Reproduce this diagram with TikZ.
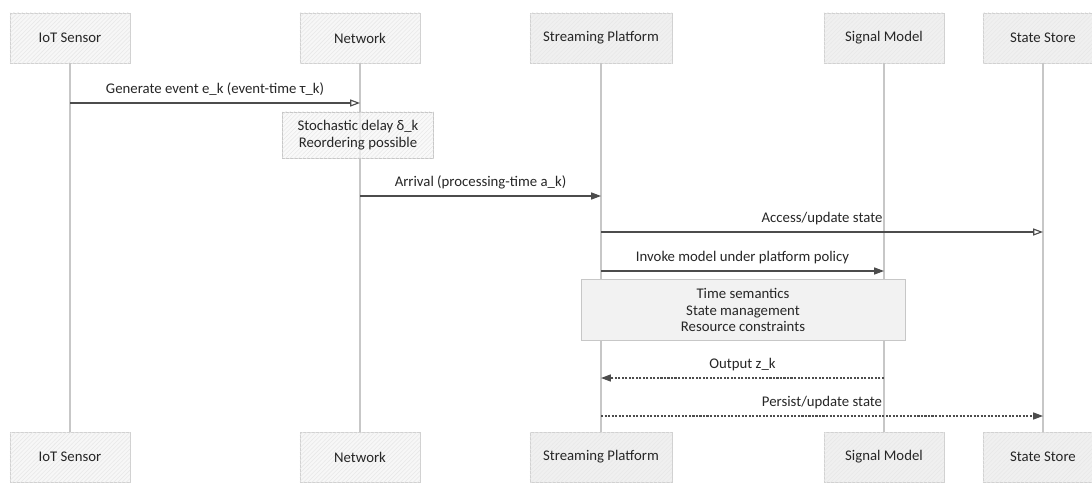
\documentclass[tikz,border=0pt]{standalone}
\usepackage{fontspec}
\setmainfont{Carlito}
\usetikzlibrary{arrows.meta, patterns}

\begin{document}
\begin{tikzpicture}[x=0.025cm, y=-0.025cm, font=\fontsize{10.5}{11.8}\selectfont]
% Styles
\tikzstyle{actor} = [rectangle, minimum width=3cm, minimum height=1.25cm, text centered, draw=black!18, fill=black!3, text=black!85, postaction={pattern=north east lines, pattern color=black!9}]
\tikzstyle{actordark} = [actor, fill=black!6]
\tikzstyle{note} = [rectangle, text centered, align=center, draw=black!22, fill=black!3, text=black!85]
\tikzstyle{lifeline} = [draw=black!22, line width=0.8pt]
\tikzstyle{arrow} = [line width=0.8pt, draw=black!70, -{Triangle[open, length=7pt, width=5pt]}]
\tikzstyle{call} = [line width=0.8pt, draw=black!70, -{Triangle[length=7pt, width=5pt]}]
\tikzstyle{reply} = [call, dash pattern=on 1.5pt off 1pt]

\useasboundingbox (0,0) rectangle (1092,482);

% Participants
\node (sensor_top) [actor] at (70,38) {IoT Sensor};
\node (network_top) [actor] at (360,38) {Network};
\node (platform_top) [actordark, minimum width=3.55cm] at (601,38) {Streaming Platform};
\node (model_top) [actordark] at (884,38) {Signal Model};
\node (store_top) [actordark] at (1043,38) {State Store};

\node (sensor_bot) [actor] at (70,457) {IoT Sensor};
\node (network_bot) [actor] at (360,457) {Network};
\node (platform_bot) [actordark, minimum width=3.55cm] at (601,457) {Streaming Platform};
\node (model_bot) [actordark] at (884,457) {Signal Model};
\node (store_bot) [actordark] at (1043,457) {State Store};

\draw [lifeline] (sensor_top) -- (sensor_bot);
\draw [lifeline] (network_top) -- (network_bot);
\draw [lifeline] (platform_top) -- (platform_bot);
\draw [lifeline] (model_top) -- (model_bot);
\draw [lifeline] (store_top) -- (store_bot);

% Message rows
\coordinate (gen_row) at (0,103);
\coordinate (arrival_row) at (0,196);
\coordinate (access_row) at (0,232);
\coordinate (invoke_row) at (0,271);
\coordinate (output_row) at (0,378);
\coordinate (persist_row) at (0,416);

\draw [arrow] (sensor_top |- gen_row) -- node[above=1.5pt, text=black!85] {Generate event e\_k (event-time τ\_k)} (network_top |- gen_row);
\node (delay_note) [note, fill opacity=0.7, text opacity=1, minimum width=3.775cm, minimum height=1.15cm, postaction={pattern=north east lines, pattern color=black!9}] at (358,135) {Stochastic delay δ\_k\\Reordering possible};
\draw [call] (network_top |- arrival_row) -- node[above=1.5pt, text=black!85] {Arrival (processing-time a\_k)} (platform_top |- arrival_row);
\draw [arrow] (platform_top |- access_row) -- node[above=1.5pt, text=black!85] {Access/update state} (store_top |- access_row);
\draw [call] (platform_top |- invoke_row) -- node[above=1.5pt, text=black!85] {Invoke model under platform policy} (model_top |- invoke_row);
\node (policy_note) [note, fill=black!5, minimum width=8.1cm, minimum height=1.525cm] at (743,310) {Time semantics\\State management\\Resource constraints};
\draw [reply] (model_top |- output_row) -- node[above=1.5pt, text=black!85] {Output z\_k} (platform_top |- output_row);
\draw [reply] (platform_top |- persist_row) -- node[above=1.5pt, text=black!85] {Persist/update state} (store_top |- persist_row);

\end{tikzpicture}
\end{document}
